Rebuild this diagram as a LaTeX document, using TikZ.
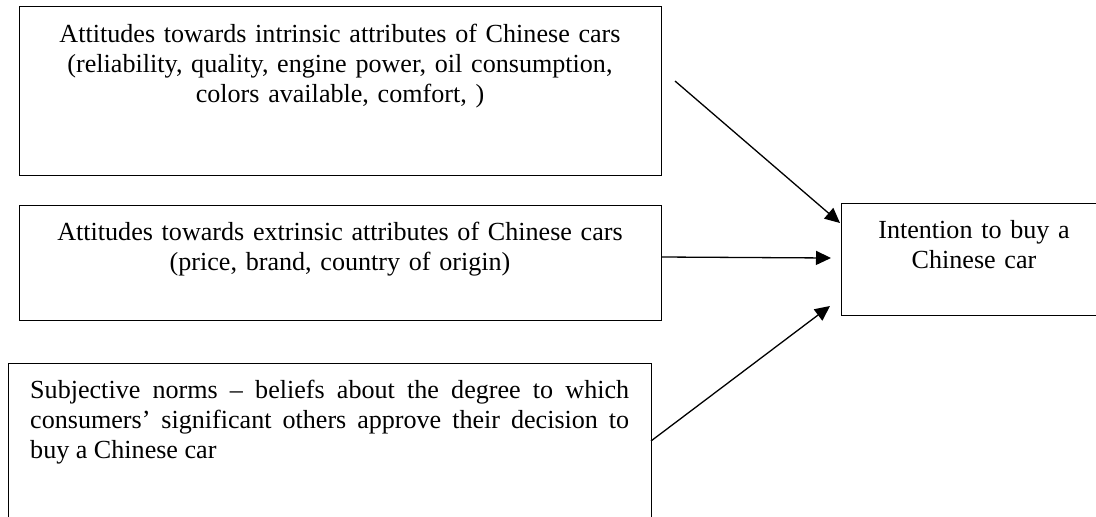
\documentclass[tikz,border=0pt]{standalone}
\usepackage{fontspec}
\setmainfont{Liberation Serif}
\usetikzlibrary{arrows.meta}
\begin{document}
\begin{tikzpicture}[x=1pt,y=-1pt,
  box/.style={draw, line width=1.3pt, inner sep=0pt},
  txt/.style={inner sep=0pt, font=\fontsize{26.1}{30.3}\selectfont},
  arr/.style={line width=1.3pt, -{Triangle[length=15pt,width=14pt]}}]
\useasboundingbox (0,0) rectangle (1096,517);
\clip (0,0) rectangle (1096,517);
\fill[white] (0,0) rectangle (1096,517);
% boxes
\node[box, minimum width=642pt, minimum height=169pt, anchor=north west] (b1) at (19,6) {};
\node[box, minimum width=642pt, minimum height=115pt, anchor=north west] (b2) at (19,205) {};
\node[box, minimum width=643pt, minimum height=170pt, anchor=north west] (b3) at (8,363) {};
\node[box, minimum width=266pt, minimum height=112pt, anchor=north west] (b4) at (841,203) {};
% texts
\node[txt, anchor=base, text width=640pt, align=center] (t1) at (340,42)
  {Attitudes towards intrinsic attributes of Chinese cars\\
   (reliability, quality, engine power, oil consumption,\\
   colors available, comfort, )};
\node[txt, anchor=base, text width=640pt, align=center] (t2) at (340,240)
  {Attitudes towards extrinsic attributes of Chinese cars\\
   (price, brand, country of origin)};
\node[txt, anchor=base west, text width=599pt, align=justify] (t3) at (30,398)
  {Subjective norms – beliefs about the degree to which\linebreak
   consumers’ significant others approve their decision to\linebreak
   buy a Chinese car};
\node[txt, anchor=base, text width=260pt, align=center] (t4) at (974,238)
  {Intention to buy a\\ Chinese car};
% connector ends
\coordinate (a1s) at (675,81);
\coordinate (a1e) at (840,223);
\coordinate (a2s) at (661,257);
\coordinate (a2e) at (831,258);
\coordinate (a3s) at (651,441);
\coordinate (a3e) at (830,306);
\draw[arr] (a1s) -- (a1e);
\draw[arr] (a2s) -- (a2e);
\draw[arr] (a3s) -- (a3e);
\end{tikzpicture}
\end{document}
